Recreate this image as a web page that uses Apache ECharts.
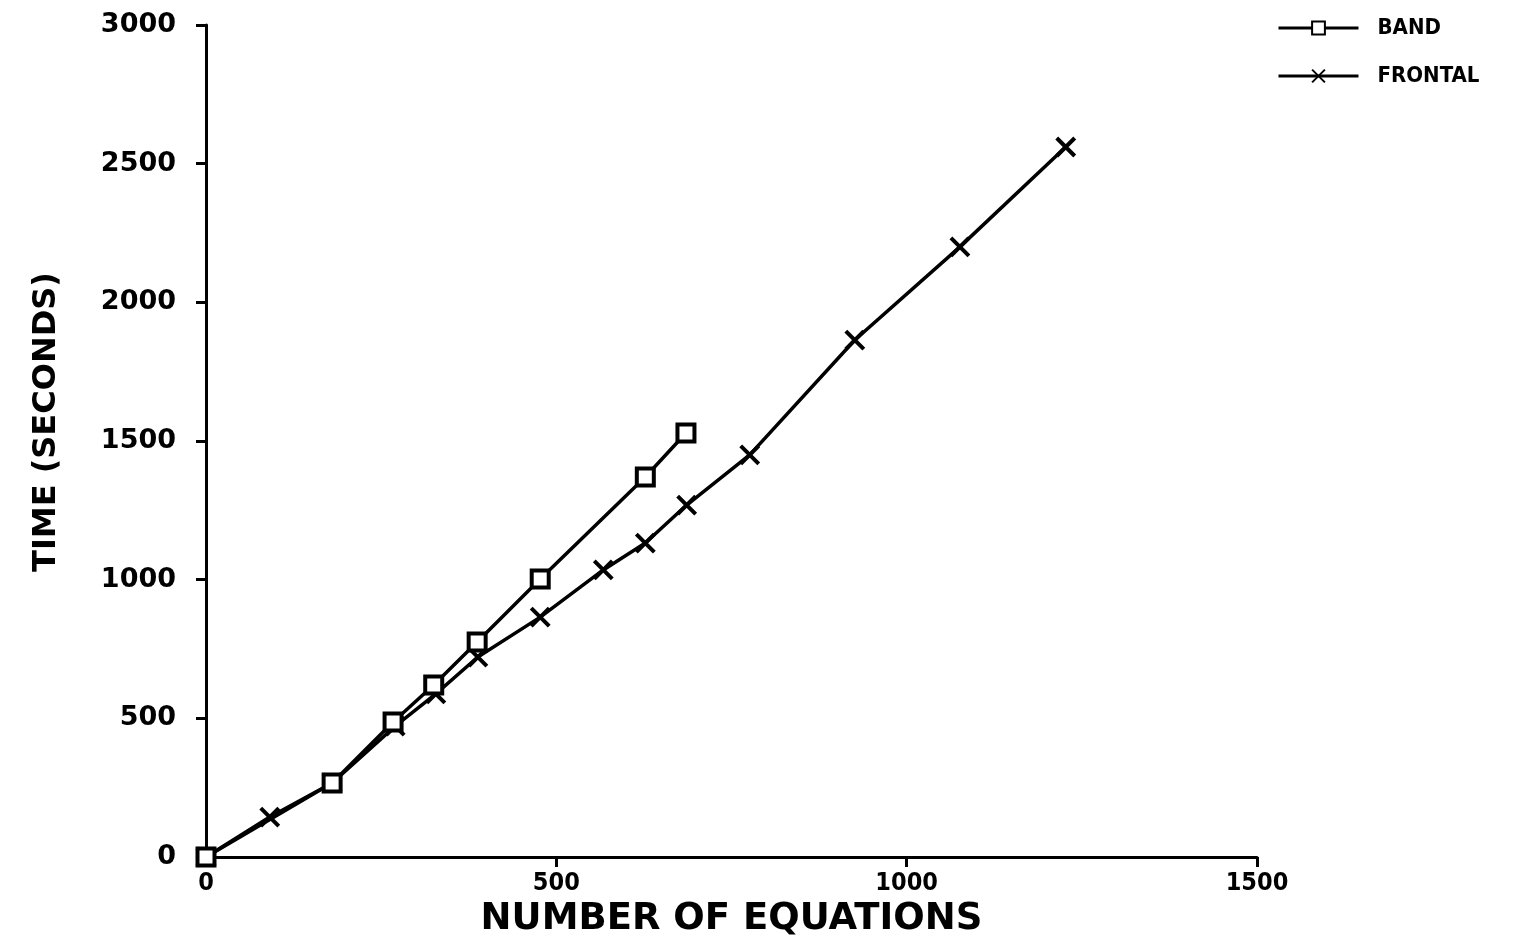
<!DOCTYPE html>
<html>
<head>
<meta charset="utf-8">
<script src="https://cdn.jsdelivr.net/npm/echarts@6/dist/echarts.min.js"></script>
<style>html,body{margin:0;padding:0;background:#fff}#c{width:1520px;height:945px}</style>
</head>
<body>
<div id="c"></div>
<script>
const xTicks = [0, 500, 1000, 1500];
const yTicks = [0, 500, 1000, 1500, 2000, 2500, 3000];
const bandX = [0, 180, 267, 325, 387, 477, 627, 685];
const bandY = [0, 267, 487, 620, 775, 1002, 1370, 1529];
const frontalX = [0, 91, 180, 270, 328, 388, 477, 567, 627, 686, 776, 926, 1076, 1227];
const frontalY = [0, 144, 267, 472, 588, 721, 865, 1035, 1132, 1269, 1450, 1864, 2200, 2560];

const chart = echarts.init(document.getElementById('c'), null, {renderer: 'canvas'});
const pair = (xs, ys) => xs.map((x, i) => [x, ys[i]]);
const crossPath = 'path://M0,0L10,10M10,0L0,10';
const plain = v => String(v);
chart.setOption({
  backgroundColor: '#fff',
  animation: false,
  grid: {left: 206, right: 263, top: 25, bottom: 88, containLabel: false},
  legend: {
    orient: 'vertical', left: 1272, top: 12, itemGap: 26, itemWidth: 80, itemHeight: 16,
    lineStyle: {width: 3, color: '#000'},
    textStyle: {fontFamily: 'DejaVu Sans Condensed', fontWeight: 'bold', fontSize: 22, color: '#000', padding: [0, 0, 0, 14]},
    data: ['BAND', 'FRONTAL']
  },
  xAxis: {
    type: 'value', min: 0, max: 1500, interval: 500,
    name: 'NUMBER OF EQUATIONS', nameLocation: 'middle', nameGap: 44,
    nameTextStyle: {fontFamily: 'DejaVu Sans', fontWeight: 'bold', fontSize: 37, color: '#000'},
    axisLine: {show: true, lineStyle: {color: '#000', width: 3}},
    axisTick: {show: true, inside: false, length: 10, lineStyle: {color: '#000', width: 3}},
    axisLabel: {margin: 14, formatter: plain, fontFamily: 'DejaVu Sans Condensed', fontWeight: 'bold', fontSize: 25, color: '#000'},
    splitLine: {show: false}
  },
  yAxis: {
    type: 'value', min: 0, max: 3000, interval: 500,
    name: 'TIME (SECONDS)', nameLocation: 'middle', nameGap: 143, nameRotate: 90,
    nameTextStyle: {fontFamily: 'DejaVu Sans', fontWeight: 'bold', fontSize: 32, color: '#000', padding: [0, 0, 0, 38]},
    axisLine: {show: true, lineStyle: {color: '#000', width: 3}},
    axisTick: {show: true, inside: false, length: 10, lineStyle: {color: '#000', width: 3}},
    axisLabel: {margin: 30, formatter: plain, fontFamily: 'DejaVu Sans', fontWeight: 'bold', fontSize: 27, color: '#000'},
    splitLine: {show: false}
  },
  series: [
    {
      name: 'BAND', type: 'line', data: pair(bandX, bandY),
      symbol: 'rect', symbolSize: 17, showAllSymbol: true,
      lineStyle: {color: '#000', width: 3.5},
      itemStyle: {color: '#fff', borderColor: '#000', borderWidth: 4},
      z: 3
    },
    {
      name: 'FRONTAL', type: 'line', data: pair(frontalX, frontalY),
      symbol: crossPath, symbolSize: 18, showAllSymbol: true,
      lineStyle: {color: '#000', width: 3.5},
      itemStyle: {color: '#000', borderColor: '#000', borderWidth: 4},
      z: 2
    }
  ]
});
</script>
</body>
</html>
